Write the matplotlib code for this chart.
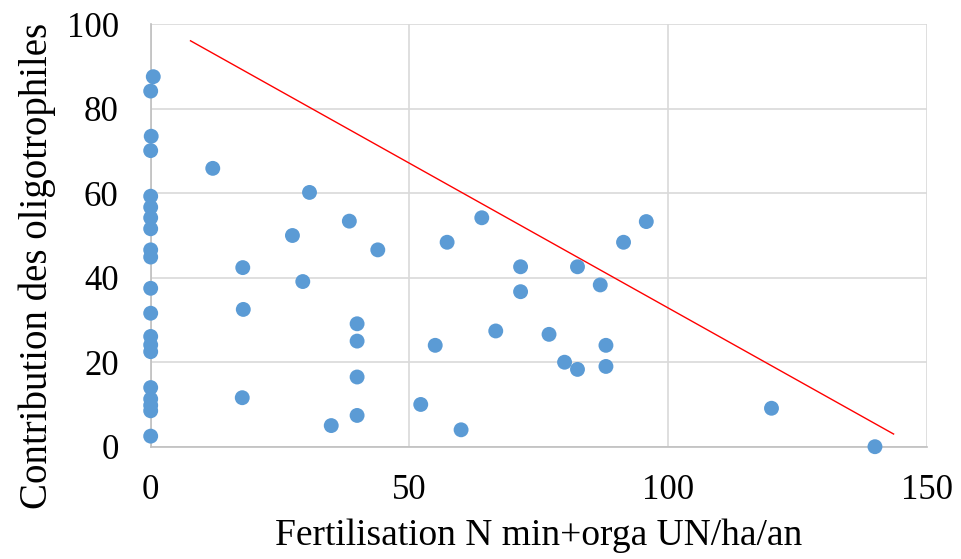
import matplotlib
matplotlib.use("Agg")
import matplotlib.pyplot as plt

# fertilisation (UN/ha/an) vs contribution des oligotrophiles
fert = [0.5, 0, 0.1, 0, 12.0, 0, 0, 0, 0, 30.7, 38.4, 27.4, 0, 0, 43.9,
        17.8, 29.4, 0, 0, 17.9, 39.9, 39.9, 0, 0, 0, 39.9, 0, 0, 0, 0,
        17.7, 39.9, 34.9, 0,
        57.3, 64.0, 71.5, 71.5, 82.5, 86.9, 91.4, 95.8, 66.7, 77.0, 55.0,
        88.0, 80.0, 82.5, 88.0, 52.2, 60.0, 120.0, 140.0]
contrib = [87.6, 84.2, 73.5, 70.1, 65.9, 59.3, 56.7, 54.2, 51.6, 60.2, 53.4,
           50.0, 46.6, 44.9, 46.6, 42.4, 39.1, 37.5, 31.6, 32.5, 29.1, 25.0,
           26.1, 24.1, 22.5, 16.5, 14.0, 11.3, 9.8, 8.5, 11.6, 7.4, 5.0, 2.5,
           48.4, 54.2, 42.6, 36.7, 42.6, 38.3, 48.4, 53.3, 27.4, 26.6, 24.0,
           24.0, 20.0, 18.3, 19.0, 10.0, 4.0, 9.1, 0.0]

# red reference line endpoints
line_x = [7.7, 143.6]
line_y = [96.1, 3.0]

plt.rcParams["font.family"] = ["Liberation Serif", "DejaVu Serif"]

fig = plt.figure(figsize=(9.61, 5.59), dpi=100)
ax = fig.add_axes([0.1568, 0.2009, 0.8075, 0.7556])

ax.plot(line_x, line_y, color="#FF0000", linewidth=1.0, zorder=2)
ax.scatter(fert, contrib, s=115, color="#5B9BD5", edgecolors="none",
           zorder=3, clip_on=False)

ax.set_xlim(0, 150)
ax.set_ylim(0, 100)
ax.set_xticks([0, 50, 100, 150])
ax.set_yticks([0, 20, 40, 60, 80, 100])
ax.grid(True, color="#D9D9D9", linewidth=1.2)
ax.set_axisbelow(True)

for side in ["top", "right"]:
    ax.spines[side].set_visible(False)
for side in ["left", "bottom"]:
    ax.spines[side].set_color("#BFBFBF")
    ax.spines[side].set_linewidth(1.2)

ax.tick_params(length=0, labelsize=25)
ax.tick_params(axis="x", pad=20)
ax.tick_params(axis="y", pad=23)
ax.set_xlabel("Fertilisation N min+orga UN/ha/an", fontsize=27)
ax.set_ylabel("Contribution des oligotrophiles", fontsize=28)
ax.xaxis.set_label_coords(0.5, -0.169)
ax.yaxis.set_label_coords(-0.122, 0.428)

fig.savefig("out.png", dpi=100)
